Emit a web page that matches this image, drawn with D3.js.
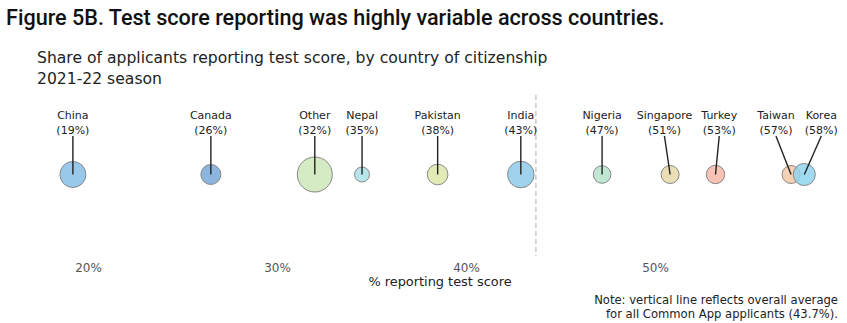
<!DOCTYPE html>
<html><head><meta charset="utf-8">
<script src="https://cdn.jsdelivr.net/npm/d3@7"></script>
<style>body{margin:0;background:#fff}svg{display:block}</style>
</head><body>
<svg id="c" width="847" height="323"></svg>
<script>
const countries = ["China","Canada","Other","Nepal","Pakistan","India","Nigeria","Singapore","Turkey","Taiwan","Korea"];
const shares = [19.2, 26.5, 32.0, 34.5, 38.5, 42.9, 47.2, 50.8, 53.2, 57.2, 57.9];
const pctLabels = ["19%","26%","32%","35%","38%","43%","47%","51%","53%","57%","58%"];
const labelAt = [19.2, 26.5, 32.0, 34.5, 38.5, 42.9, 47.2, 50.5, 53.4, 56.4, 58.8];
const sizes = [13, 10, 17.5, 7.5, 10.3, 13.3, 8.8, 9, 9.2, 9, 11];
const colors = ["#86c0e6","#79a9d9","#cde7b8","#a9e1e6","#dde6a8","#8ecbea","#b6e3cd","#e6d8a8","#f7b7a8","#f2c9a7","#8fd5ef"];
const ticks = [20, 30, 40, 50];
const average = 43.7;

const svg = d3.select("#c");
const x = d3.scaleLinear().domain([20, 50]).range([88, 655]);
const cy = 174.5;

svg.append("text").attr("x", 6).attr("y", 25).attr("font-family", "Roboto").attr("font-weight", 500)
  .attr("font-size", 21.6).attr("fill", "#111").text("Figure 5B. Test score reporting was highly variable across countries.");
svg.append("text").attr("x", 37).attr("y", 63).attr("font-family", "DejaVu Sans").attr("font-size", 15.6)
  .attr("fill", "#222").text("Share of applicants reporting test score, by country of citizenship");
svg.append("text").attr("x", 37).attr("y", 84).attr("font-family", "DejaVu Sans").attr("font-size", 15.6)
  .attr("fill", "#222").text("2021-22 season");

// average line
svg.append("line").attr("x1", x(average)).attr("x2", x(average)).attr("y1", 95).attr("y2", 256)
  .attr("stroke", "#bbb").attr("stroke-width", 1.2).attr("stroke-dasharray", "5,3");

const data = countries.map((c, i) => ({c, v: shares[i], lx: labelAt[i], p: pctLabels[i], r: sizes[i], col: colors[i]}));

const g = svg.append("g");
g.selectAll("circle").data(data).join("circle")
  .attr("cx", d => x(d.v)).attr("cy", cy).attr("r", d => d.r)
  .attr("fill", d => d.col).attr("fill-opacity", 0.85).attr("stroke", "#888").attr("stroke-width", 1);

g.selectAll("line.lead").data(data).join("line").attr("class", "lead")
  .attr("x1", d => x(d.lx)).attr("y1", 136).attr("x2", d => x(d.v)).attr("y2", cy)
  .attr("stroke", "#222").attr("stroke-width", 1.4);

g.selectAll("text.nm").data(data).join("text").attr("class", "nm")
  .attr("x", d => x(d.lx)).attr("y", 119).attr("text-anchor", "middle")
  .attr("font-family", "DejaVu Sans").attr("font-size", 11).attr("fill", "#222").text(d => d.c);
g.selectAll("text.pc").data(data).join("text").attr("class", "pc")
  .attr("x", d => x(d.lx)).attr("y", 134).attr("text-anchor", "middle")
  .attr("font-family", "DejaVu Sans").attr("font-size", 11).attr("fill", "#222").text(d => "(" + d.p + ")");

// axis
const ax = svg.append("g").attr("transform", "translate(0,255)")
  .call(d3.axisBottom(x).tickValues(ticks).tickFormat(d => d + "%").tickSize(0).tickPadding(8));
ax.select(".domain").remove();
ax.selectAll("text").attr("font-family", "DejaVu Sans").attr("font-size", 12).attr("fill", "#555");

svg.append("text").attr("x", 440).attr("y", 286).attr("text-anchor", "middle")
  .attr("font-family", "DejaVu Sans").attr("font-size", 12.9).attr("fill", "#222").text("% reporting test score");

svg.append("text").attr("x", 838).attr("y", 304).attr("text-anchor", "end")
  .attr("font-family", "DejaVu Sans").attr("font-size", 11.6).attr("fill", "#222").text("Note: vertical line reflects overall average");
svg.append("text").attr("x", 838).attr("y", 318).attr("text-anchor", "end")
  .attr("font-family", "DejaVu Sans").attr("font-size", 11.6).attr("fill", "#222").text("for all Common App applicants (43.7%).");
</script>
</body></html>
